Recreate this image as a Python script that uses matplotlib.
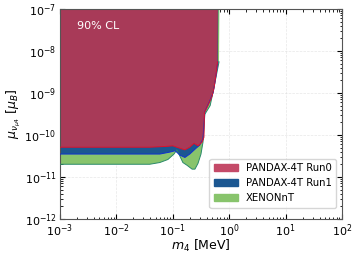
import numpy as np
import matplotlib
matplotlib.use("Agg")
import matplotlib.pyplot as plt
from matplotlib.patches import Patch

# excluded regions, lower/right boundary (m4 in MeV, mu in mu_B)
run0_m = [1e-3, 0.039, 0.073, 0.10, 0.134, 0.164, 0.20, 0.238, 0.28, 0.33, 0.357,
          0.364, 0.42, 0.495, 0.54, 0.583, 0.62, 0.63]
run0_mu = [5.1e-11, 5.1e-11, 5.3e-11, 5.5e-11, 4.8e-11, 4.4e-11, 5.1e-11, 6.3e-11, 5.5e-11,
           6.7e-11, 8.8e-11, 3.4e-10, 5.0e-10, 8.2e-10, 1.34e-9, 2.7e-9, 5.5e-9, 1e-7]

run1_m = [1e-3, 0.059, 0.089, 0.11, 0.134, 0.164, 0.20, 0.258, 0.30, 0.343, 0.37,
          0.44, 0.52, 0.57, 0.63, 0.64]
run1_mu = [3.5e-11, 3.5e-11, 3.9e-11, 4.2e-11, 3.3e-11, 2.9e-11, 3.5e-11, 4.8e-11, 5.7e-11,
           7.9e-11, 3.6e-10, 5.9e-10, 1.02e-9, 2.1e-9, 5.5e-9, 1e-7]

xenon_m = [1e-3, 0.039, 0.059, 0.082, 0.105, 0.118, 0.134, 0.151, 0.178, 0.22, 0.247,
           0.28, 0.316, 0.343, 0.37, 0.46, 0.54, 0.61, 0.66, 0.67]
xenon_mu = [2.0e-11, 2.0e-11, 2.2e-11, 2.6e-11, 3.5e-11, 4.4e-11, 3.1e-11, 2.2e-11, 1.9e-11,
            1.53e-11, 1.53e-11, 2.1e-11, 3.5e-11, 6.7e-11, 3.1e-10, 5.0e-10, 1.4e-9, 3.2e-9,
            5.5e-9, 1e-7]

labels = ["PANDAX-4T Run0", "PANDAX-4T Run1", "XENONnT"]
fills = ["#a83a58", "#1b5791", "#88c46c"]
edges = ["#e0102a", "#1030d0", "#2a8a6a"]
legend_cols = ["#c44a68", "#1b5791", "#88c46c"]

fig = plt.figure(figsize=(3.57, 2.56), dpi=100)
ax = fig.add_axes([0.168, 0.145, 0.790, 0.820])
ax.set_xscale("log")
ax.set_yscale("log")
ax.set_xlim(1e-3, 1e2)
ax.set_ylim(1e-12, 1e-7)

for m, mu, fc, ec in [(xenon_m, xenon_mu, fills[2], edges[2]),
                      (run1_m, run1_mu, fills[1], edges[1]),
                      (run0_m, run0_mu, fills[0], edges[0])]:
    xs = np.r_[m, m[0]]
    ys = np.r_[mu, 1e-7]
    ax.fill(xs, ys, color=fc, lw=0, zorder=2)
    ax.plot(m[:-1], mu[:-1], color=ec, lw=0.7, zorder=3)

ax.grid(True, which="major", ls="--", color="#d8d8d8", lw=0.5, alpha=0.6, zorder=4)
ax.tick_params(which="both", direction="in", top=True, right=True, labelsize=8, pad=2.5)
ax.tick_params(which="major", length=3.5)
ax.tick_params(which="minor", length=1.8)
for s in ax.spines.values():
    s.set_color("#555555")

ax.text(0.06, 0.905, "90% CL", transform=ax.transAxes, color="white", fontsize=8, zorder=5)
ax.set_xlabel(r"$m_4$ [MeV]", fontsize=9, labelpad=-1)
ax.set_ylabel(r"$\mu_{\nu_{\mu 4}}$ [$\mu_B$]", fontsize=9, labelpad=1)

handles = [Patch(color=c, label=l) for c, l in zip(legend_cols, labels)]
ax.legend(handles=handles, loc="lower right", bbox_to_anchor=(1.0, 0.025), fontsize=7.3,
          handlelength=2.4, borderaxespad=0.6, labelspacing=0.5)

fig.savefig("out.png", dpi=100)
